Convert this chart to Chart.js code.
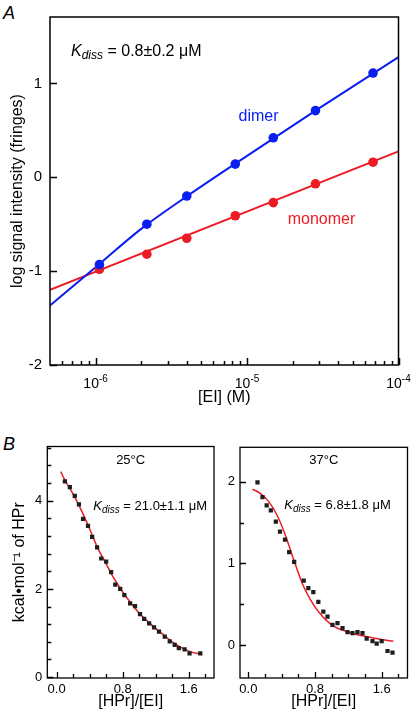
<!DOCTYPE html>
<html lang="en">
<head>
  <meta charset="UTF-8">
  <title>EI dimer / monomer and HPr binding</title>
  <script src="https://cdn.jsdelivr.net/npm/chart.js@4.4.0/dist/chart.umd.min.js"></script>
  <style>
    body { margin: 0; background: #fff; font-family: "Liberation Sans", Arial, sans-serif; }
    #page { position: relative; width: 419px; height: 714px; overflow: hidden; }
    .plot { position: absolute; }
    .tag { position: absolute; font-style: italic; font-size: 18px; line-height: 18px; }
  </style>
</head>
<body>
<div id="page">
  <div class="tag" style="left:3px; top:4px;">A</div>
  <div class="tag" style="left:3px; top:435px;">B</div>
  <canvas id="chartA" class="plot" width="419" height="410" style="left:0; top:0;"></canvas>
  <canvas id="chart25" class="plot" width="218" height="284" style="left:0; top:430px;"></canvas>
  <canvas id="chart37" class="plot" width="201" height="284" style="left:218px; top:430px;"></canvas>
</div>

<script>
  const FONT = '"Liberation Sans", Arial, Helvetica, sans-serif';
  Chart.defaults.font.family = FONT;
  Chart.defaults.color = '#000';

  // ---- panel A: log signal vs [EI]
  const eiConc = [1.06e-6, 2.18e-6, 4.0e-6, 8.36e-6, 1.49e-5, 2.83e-5, 6.79e-5];
  const dimerLog = [-0.93, -0.50, -0.20, 0.14, 0.42, 0.71, 1.11];
  const monomerLog = [-0.98, -0.82, -0.65, -0.41, -0.27, -0.07, 0.16];
  const dimerFitConc = [5e-7, 1e-6, 2e-6, 4e-6, 1e-5, 3e-5, 1e-4];
  const dimerFit = [-1.367, -0.959, -0.55, -0.204, 0.227, 0.736, 1.279];
  const monomerFitConc = [5e-7, 1e-4];
  const monomerFit = [-1.20, 0.275];
  const aXTicks = [1e-6, 1e-5, 1e-4];
  const aYTicks = [-2, -1, 0, 1];

  // ---- panel B: ITC heats, 25 C and 37 C
  const ratio25 = [0.10, 0.16, 0.22, 0.27, 0.32, 0.38, 0.43, 0.49, 0.54, 0.60, 0.66, 0.71, 0.77, 0.82,
                   0.89, 0.95, 1.01, 1.06, 1.12, 1.18, 1.24, 1.31, 1.37, 1.43, 1.48, 1.55, 1.61, 1.74];
  const heat25 = [4.44, 4.31, 4.11, 3.92, 3.59, 3.43, 3.18, 2.94, 2.69, 2.62, 2.38, 2.10, 2.00, 1.86,
                  1.67, 1.61, 1.43, 1.32, 1.22, 1.13, 1.03, 0.92, 0.81, 0.73, 0.66, 0.63, 0.54, 0.54];
  const fitRatio25 = [0.05, 0.1, 0.2, 0.3, 0.4, 0.5, 0.6, 0.7, 0.8, 0.9, 1.0, 1.1, 1.2, 1.3, 1.4, 1.5, 1.6, 1.76];
  const fitHeat25 = [4.66, 4.47, 4.15, 3.78, 3.36, 2.92, 2.57, 2.22, 1.93, 1.68, 1.45, 1.27, 1.10, 0.95, 0.80, 0.68, 0.59, 0.51];

  const ratio37 = [0.11, 0.17, 0.22, 0.27, 0.33, 0.38, 0.44, 0.49, 0.55, 0.665, 0.72, 0.78, 0.84, 0.90,
                   0.95, 1.01, 1.07, 1.13, 1.19, 1.25, 1.31, 1.37, 1.42, 1.49, 1.54, 1.60, 1.67, 1.73];
  const heat37 = [1.99, 1.81, 1.71, 1.65, 1.51, 1.39, 1.29, 1.14, 1.02, 0.79, 0.70, 0.65, 0.53, 0.41,
                  0.35, 0.25, 0.27, 0.21, 0.16, 0.15, 0.16, 0.15, 0.08, 0.05, 0.02, 0.05, -0.07, -0.09];
  const fitRatio37 = [0.05, 0.15, 0.25, 0.35, 0.45, 0.55, 0.65, 0.75, 0.85, 1.0, 1.2, 1.4, 1.6, 1.74];
  const fitHeat37 = [1.91, 1.85, 1.75, 1.58, 1.33, 1.03, 0.75, 0.55, 0.40, 0.25, 0.16, 0.11, 0.07, 0.05];

  const bXLabels = [0, 0.8, 1.6];
  const bY25Labels = [0, 2, 4];
  const bY37Labels = [0, 1, 2];

  const BLUE = '#0a1ef0';
  const RED = '#ec1c24';

  function pts(xs, ys) { return xs.map((x, i) => ({x: x, y: ys[i]})); }
  function inList(list, v) { return list.some(l => Math.abs(l - v) < 1e-6 * Math.max(Math.abs(l), 1e-12)); }

  function logMinors(scale) {
    const out = [];
    for (let e = Math.floor(Math.log10(scale.min)); e <= Math.ceil(Math.log10(scale.max)); e++) {
      for (let k = 2; k <= 9; k++) {
        const v = k * Math.pow(10, e);
        if (v > scale.min * 1.001 && v < scale.max * 0.999) out.push(v);
      }
    }
    return out;
  }

  // box round the plot area, ticks pointing inward
  const frame = {
    id: 'frame',
    afterDraw(chart, args, o) {
      const {ctx, chartArea: a, scales} = chart;
      const sx = scales.x, sy = scales.y;
      ctx.save();
      ctx.strokeStyle = '#000';
      ctx.lineWidth = o.lineWidth;
      ctx.beginPath();
      const xv = o.logX ? o.xMajor.concat(logMinors(sx)) : sx.ticks.map(t => t.value);
      xv.forEach(v => {
        const p = Math.round(sx.getPixelForValue(v)) + 0.5;
        const len = inList(o.xMajor, v) ? o.major : o.minor;
        ctx.moveTo(p, a.bottom);
        ctx.lineTo(p, a.bottom - len);
      });
      sy.ticks.forEach(t => {
        const p = Math.round(sy.getPixelForValue(t.value)) + 0.5;
        const len = inList(o.yMajor, t.value) ? o.major : o.minor;
        ctx.moveTo(a.left, p);
        ctx.lineTo(a.left + len, p);
      });
      ctx.stroke();
      ctx.strokeRect(a.left, a.top, a.right - a.left, a.bottom - a.top);
      ctx.restore();
    }
  };

  function drawKdiss(ctx, x, y, size, rest) {
    ctx.textAlign = 'left';
    ctx.font = 'italic ' + size + 'px ' + FONT;
    ctx.fillText('K', x, y);
    x += ctx.measureText('K').width;
    ctx.font = 'italic ' + Math.round(size * 0.78) + 'px ' + FONT;
    ctx.fillText('diss', x, y + size * 0.2);
    x += ctx.measureText('diss').width;
    ctx.font = size + 'px ' + FONT;
    ctx.fillText(' = ' + rest, x, y);
  }

  // text inside the plots
  const notes = {
    id: 'notes',
    afterDraw(chart, args, o) {
      const {ctx, chartArea: a, scales} = chart;
      ctx.save();
      ctx.textBaseline = 'alphabetic';
      (o.items || []).forEach(it => {
        let x, y;
        if (it.data) {
          x = scales.x.getPixelForValue(it.x);
          y = scales.y.getPixelForValue(it.y);
        } else {
          x = it.center ? (a.left + a.right) / 2 : a.left + it.dx;
          y = a.top + it.dy;
        }
        ctx.fillStyle = it.color || '#000';
        if (it.kdiss) {
          drawKdiss(ctx, x, y, it.size, it.kdiss);
        } else {
          ctx.font = it.size + 'px ' + FONT;
          ctx.textAlign = 'center';
          ctx.fillText(it.text, x, y);
        }
      });
      // powers of ten under a log axis
      if (o.powers) {
        const sx = scales.x;
        o.powers.forEach(v => {
          const e = String(Math.round(Math.log10(v)));
          ctx.font = '14px ' + FONT;
          const w1 = ctx.measureText('10').width;
          ctx.font = '10px ' + FONT;
          const w2 = ctx.measureText(e).width;
          const x0 = sx.getPixelForValue(v) - (w1 + w2) / 2;
          ctx.fillStyle = '#000';
          ctx.textAlign = 'left';
          ctx.font = '14px ' + FONT;
          ctx.fillText('10', x0, a.bottom + 22.5);
          ctx.font = '10px ' + FONT;
          ctx.fillText(e, x0 + w1, a.bottom + 16.5);
        });
      }
      ctx.restore();
    }
  };

  new Chart(document.getElementById('chartA'), {
    type: 'scatter',
    data: {
      datasets: [
        { data: pts(eiConc, dimerLog), backgroundColor: BLUE, borderWidth: 0, pointRadius: 4.8 },
        { data: pts(eiConc, monomerLog), backgroundColor: RED, borderWidth: 0, pointRadius: 4.8 },
        { data: pts(dimerFitConc, dimerFit), showLine: true, borderColor: BLUE, borderWidth: 2, pointRadius: 0,
          cubicInterpolationMode: 'monotone' },
        { data: pts(monomerFitConc, monomerFit), showLine: true, borderColor: RED, borderWidth: 2, pointRadius: 0 }
      ]
    },
    options: {
      responsive: false, animation: false, events: [],
      layout: { padding: { top: 15, right: 20.5, left: 0, bottom: 0 } },
      scales: {
        x: {
          type: 'logarithmic', min: 5e-7, max: 1e-4,
          grid: { display: false, drawTicks: false }, border: { display: false },
          ticks: { display: false },
          title: { display: true, text: '[EI] (M)', font: { size: 16 }, padding: { top: 0, bottom: 3 } },
          afterFit: s => { s.height = 45; }
        },
        y: {
          min: -2, max: 1.707,
          grid: { display: false, drawTicks: false }, border: { display: false },
          ticks: { stepSize: 1, includeBounds: false, font: { size: 15 }, padding: 8 },
          title: { display: true, text: 'log signal intensity (fringes)', font: { size: 16 }, padding: { top: 8, bottom: 0 } },
          afterFit: s => { s.width = 50; }
        }
      },
      plugins: {
        legend: { display: false }, tooltip: { enabled: false },
        frame: { lineWidth: 1.5, major: 7, minor: 4, logX: true, xMajor: aXTicks, yMajor: aYTicks },
        notes: {
          powers: aXTicks,
          items: [
            { kdiss: '0.8\u00b10.2 \u03bcM', size: 16, dx: 21, dy: 38.5 },
            { text: 'dimer', color: BLUE, size: 16, data: true, x: 1.19e-5, y: 0.60 },
            { text: 'monomer', color: RED, size: 16, data: true, x: 3.1e-5, y: -0.494 }
          ]
        }
      }
    },
    plugins: [frame, notes]
  });

  function itcChart(id, xs, ys, fx, fy, xMin, xMax, yMin, yMax, yStep, yLabels, yTitle, yWidth, pad, tempText, kText, kdx, kdy) {
    return new Chart(document.getElementById(id), {
      type: 'scatter',
      data: {
        datasets: [
          { data: pts(xs, ys), pointStyle: 'rect', pointRadius: 3, backgroundColor: '#1e1e1e', borderWidth: 0 },
          { data: pts(fx, fy), showLine: true, borderColor: RED, borderWidth: 1.5, pointRadius: 0, cubicInterpolationMode: 'monotone' }
        ]
      },
      options: {
        responsive: false, animation: false, events: [],
        layout: { padding: pad },
        scales: {
          x: {
            min: xMin, max: xMax,
            grid: { display: false, drawTicks: false }, border: { display: false },
            ticks: {
              stepSize: 0.2, includeBounds: false, autoSkip: false, maxRotation: 0, font: { size: 13 }, padding: 4,
              callback: v => inList(bXLabels, v) || Math.abs(v) < 1e-9 ? v.toFixed(1) : ''
            },
            title: { display: true, text: '[HPr]/[EI]', font: { size: 16 }, padding: { top: 0, bottom: 3 } },
            afterFit: s => { s.height = 36; }
          },
          y: {
            min: yMin, max: yMax,
            grid: { display: false, drawTicks: false }, border: { display: false },
            ticks: {
              stepSize: yStep, includeBounds: false, autoSkip: false, font: { size: 13 }, padding: 5,
              callback: v => inList(yLabels, v) || Math.abs(v) < 1e-9 ? String(Math.round(v)) : ''
            },
            title: { display: !!yTitle, text: yTitle, font: { size: 16 }, padding: { top: 10, bottom: 0 } },
            afterFit: s => { s.width = yWidth; }
          }
        },
        plugins: {
          legend: { display: false }, tooltip: { enabled: false },
          frame: { lineWidth: 1.3, major: 6, minor: 4, xMajor: bXLabels, yMajor: yLabels },
          notes: {
            items: [
              { text: tempText, size: 13, center: true, dy: 17 },
              { kdiss: kText, size: 13, dx: kdx, dy: kdy }
            ]
          }
        }
      },
      plugins: [frame, notes]
    });
  }

  itcChart('chart25', ratio25, heat25, fitRatio25, fitHeat25, -0.113, 1.906, -0.02, 5.23, 0.4, bY25Labels,
           'kcal\u2022mol\u207b\u00b9 of HPr', 47.3, { top: 16.5, right: 2.5, left: 0, bottom: 0 },
           '25\u00b0C', '21.0\u00b11.1 \u03bcM', 46, 63.5);
  itcChart('chart37', ratio37, heat37, fitRatio37, fitHeat37, -0.1, 1.91, -0.4, 2.42, 0.5, bY37Labels,
           '', 22, { top: 17.3, right: 11.5, left: 0, bottom: 0 },
           '37\u00b0C', '6.8\u00b11.8 \u03bcM', 44.3, 61.7);
</script>
</body>
</html>
